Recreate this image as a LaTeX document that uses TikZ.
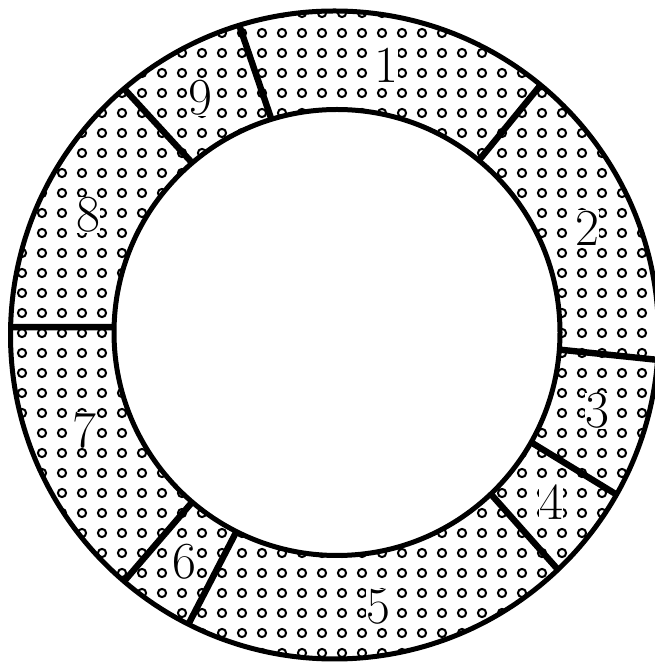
\documentclass[tikz,border=0pt]{standalone}
\usepackage{fontspec}
\usetikzlibrary{calc}
\tikzset{
  dotmark/.style={line width=2pt, draw=black},
  ring/.style={line width=5pt, draw=black},
  divider/.style={line width=6.4pt, draw=black},
  lab/.style={font=\fontsize{52}{60}\selectfont, fill=white, inner sep=0.4pt}
}
\begin{document}
\begin{tikzpicture}[x=1pt,y=1pt]
\useasboundingbox (0,0) rectangle (655,666);
\coordinate (O) at (334.5,331);
\coordinate (I) at (337,333.5);
\begin{scope}
  \clip (O) circle (324);
  \foreach \i in {0,...,33} {
    \foreach \j in {0,...,33} {
      \draw[dotmark] (2+20*\i, 13+20*\j) circle (4.1);
    }
  }
\end{scope}
\fill[white] (I) circle (223);
\foreach \a/\n in {107.1/a, 50.5/b, -4.4/c, -29.5/d, -46.4/e, 243.2/f, 229.5/g, 178.6/h, 130.5/k} {
  \coordinate (in\n) at ($(I)+(\a:223)$);
  \coordinate (out\n) at ($(O)+(\a:324)$);
  \draw[divider] (in\n) -- (out\n);
}
\draw[ring] (O) circle (324);
\draw[ring] (I) circle (223);
\node[lab] (l1) at (386,601) {1};
\node[lab] (l2) at (587,438) {2};
\node[lab] (l3) at (597,255) {3};
\node[lab] (l4) at (551,164) {4};
\node[lab] (l5) at (378,59) {5};
\node[lab] (l6) at (184,104) {6};
\node[lab] (l7) at (84,236) {7};
\node[lab] (l8) at (88,451) {8};
\node[lab] (l9) at (200,568) {9};
\end{tikzpicture}
\end{document}
